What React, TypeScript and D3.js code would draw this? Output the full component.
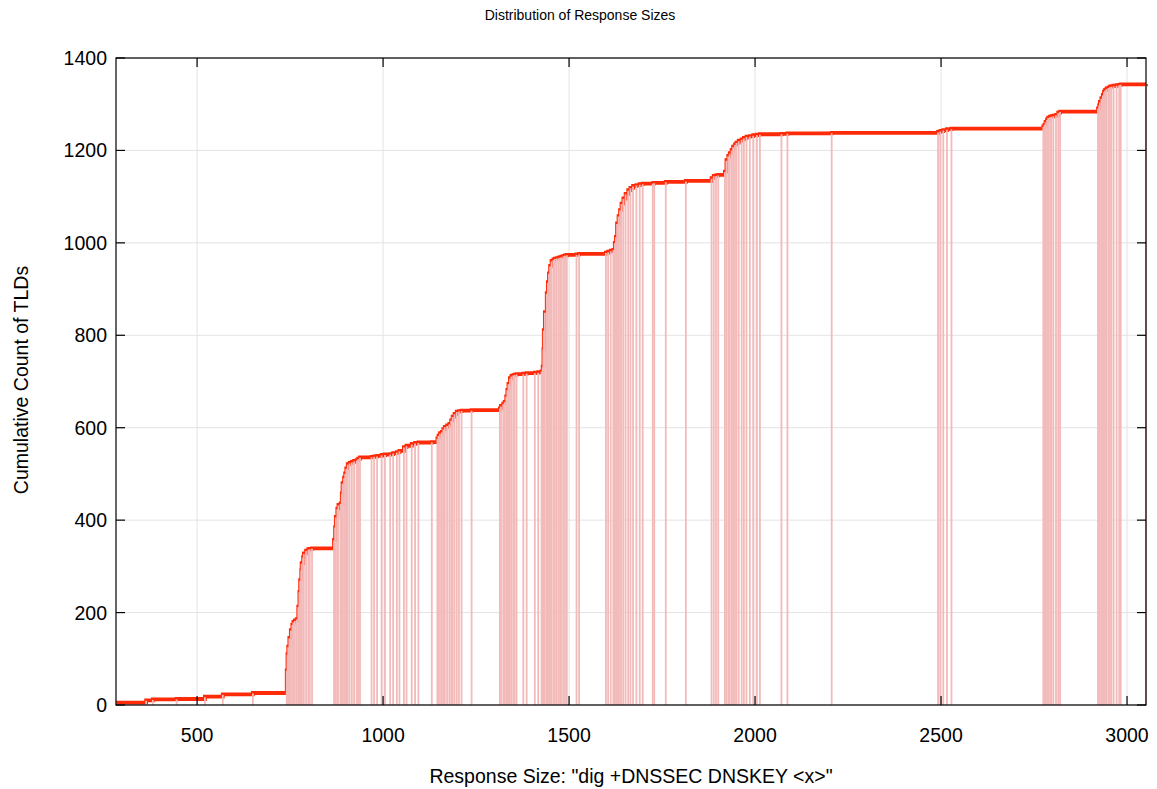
import React from "react";
import * as d3 from "d3";

// distinct response sizes (bytes) and cumulative TLD count at each size
const responseSizes = [
  282, 363, 381, 445, 521, 569, 650,
  741, 743, 745, 748, 752, 756, 759, 763, 768, 772, 775, 777, 780, 781, 785, 787, 793, 799, 803, 809,
  868, 871, 873, 877, 880, 886, 889, 891, 895, 898, 901, 905, 910, 916, 922, 929, 933, 938,
  969, 976, 984, 996, 1005, 1019, 1027, 1037, 1044, 1056, 1063, 1077, 1086, 1095, 1131,
  1146, 1149, 1153, 1158, 1162, 1166, 1172, 1178, 1183, 1187, 1192, 1198, 1204, 1211, 1238,
  1314, 1317, 1323, 1327, 1331, 1334, 1337, 1341, 1345, 1350, 1354, 1359, 1377, 1386, 1408, 1417, 1426,
  1429, 1431, 1432, 1435, 1440, 1443, 1446, 1449, 1453, 1458, 1462, 1467, 1472, 1476, 1480, 1485, 1489, 1494, 1520, 1527,
  1599, 1605, 1612, 1619, 1623, 1626, 1629, 1633, 1637, 1641, 1646, 1652, 1659, 1665, 1672, 1681, 1690, 1698, 1725, 1729, 1760, 1814,
  1883, 1889, 1895, 1901, 1919, 1923, 1928, 1932, 1937, 1941, 1946, 1950, 1956, 1964, 1970, 1977, 1986, 1995, 2005, 2013, 2071, 2087, 2206,
  2492, 2498, 2506, 2516, 2528,
  2775, 2778, 2781, 2785, 2788, 2793, 2797, 2802, 2809, 2815, 2820,
  2922, 2925, 2927, 2931, 2935, 2938, 2941, 2945, 2950, 2954, 2958, 2964, 2972, 2979, 2983, 3051,
];

const cumulativeCounts = [
  5, 10, 12, 13, 18, 23, 26,
  75, 110, 126, 145, 162, 174, 180, 183, 186, 213, 245, 270, 292, 307, 320, 328, 334, 337, 338, 339,
  357, 385, 407, 425, 433, 436, 458, 480, 492, 501, 512, 521, 524, 526, 528, 530, 533, 536,
  537, 538, 539, 541, 542, 543, 545, 547, 550, 558, 561, 565, 567, 568, 569,
  577, 583, 588, 591, 597, 602, 605, 608, 616, 624, 630, 635, 636, 637, 638,
  642, 647, 652, 656, 668, 682, 695, 707, 712, 714, 715, 716, 717, 718, 719, 720, 722,
  732, 770, 811, 850, 891, 915, 934, 950, 961, 964, 966, 967, 968, 969, 970, 972, 973, 974, 975, 976,
  979, 981, 983, 985, 1000, 1013, 1042, 1058, 1071, 1085, 1096, 1106, 1114, 1119, 1123, 1125, 1127, 1128, 1129, 1130, 1132, 1134,
  1140, 1145, 1146, 1147, 1154, 1179, 1188, 1194, 1201, 1208, 1213, 1217, 1221, 1224, 1227, 1230, 1231, 1233, 1234, 1235, 1236, 1237, 1238,
  1240, 1242, 1244, 1246, 1247,
  1252, 1256, 1262, 1267, 1271, 1273, 1274, 1275, 1277, 1282, 1284,
  1291, 1298, 1305, 1313, 1320, 1327, 1331, 1334, 1336, 1338, 1339, 1340, 1341, 1342, 1343, 1344,
];

const xTicks = [500, 1000, 1500, 2000, 2500, 3000];
const yTicks = [0, 200, 400, 600, 800, 1000, 1200, 1400];

const FONT = "'Liberation Sans', Arial, Helvetica, sans-serif";

export default function App() {
  const width = 1157;
  const height = 789;
  const margin = { top: 58, right: 11, bottom: 84, left: 116 };
  const x0 = margin.left;
  const x1 = width - margin.right;
  const y0 = height - margin.bottom;
  const y1 = margin.top;

  const x = d3.scaleLinear().domain([282, 3051]).range([x0, x1]);
  const y = d3.scaleLinear().domain([0, 1400]).range([y0, y1]);

  const points: [number, number][] = responseSizes.map((s, i) => [s, cumulativeCounts[i]]);
  const line = d3
    .line<[number, number]>()
    .x((d) => x(d[0]))
    .y((d) => y(d[1]))
    .curve(d3.curveStepAfter);

  const tickLen = 9;

  return (
    <svg
      width={width}
      height={height}
      style={{ position: "absolute", left: 0, top: 0, background: "#fff" }}
    >
      <rect width={width} height={height} fill="#fff" />
      <text x={580} y={20} textAnchor="middle" fontFamily={FONT} fontSize={14} fill="#000">
        Distribution of Response Sizes
      </text>

      {/* grid */}
      <g stroke="#e3e3e3" strokeWidth={1}>
        {xTicks.map((t) => (
          <line key={"gx" + t} x1={x(t)} x2={x(t)} y1={y1} y2={y0} />
        ))}
        {yTicks.map((t) => (
          <line key={"gy" + t} x1={x0} x2={x1} y1={y(t)} y2={y(t)} />
        ))}
      </g>

      {/* cumulative curve */}
      <path d={line(points) || ""} fill="none" stroke="#ff2a08" strokeWidth={3.8} />

      {/* impulses */}
      <g stroke="#f3baba" strokeWidth={1.8}>
        {points.map((d, i) => (
          <line key={"imp" + i} x1={x(d[0])} x2={x(d[0])} y1={y(0)} y2={y(d[1]) + 0.5} />
        ))}
      </g>

      {/* border and ticks */}
      <rect x={x0} y={y1} width={x1 - x0} height={y0 - y1} fill="none" stroke="#000" strokeWidth={1.2} />
      <g stroke="#000" strokeWidth={1.2}>
        {xTicks.map((t) => (
          <g key={"tx" + t}>
            <line x1={x(t)} x2={x(t)} y1={y0} y2={y0 - tickLen} />
            <line x1={x(t)} x2={x(t)} y1={y1} y2={y1 + tickLen} />
          </g>
        ))}
        {yTicks.map((t) => (
          <g key={"ty" + t}>
            <line x1={x0} x2={x0 + tickLen} y1={y(t)} y2={y(t)} />
            <line x1={x1} x2={x1 - tickLen} y1={y(t)} y2={y(t)} />
          </g>
        ))}
      </g>

      {/* tick labels */}
      <g fontFamily={FONT} fontSize={19.5} fill="#000">
        {xTicks.map((t) => (
          <text key={"lx" + t} x={x(t)} y={y0 + 37} textAnchor="middle">
            {t}
          </text>
        ))}
        {yTicks.map((t) => (
          <text key={"ly" + t} x={x0 - 9} y={y(t) + 7} textAnchor="end">
            {t}
          </text>
        ))}
      </g>

      {/* axis titles */}
      <text x={631} y={783} textAnchor="middle" fontFamily={FONT} fontSize={19.5} fill="#000">
        Response Size: "dig +DNSSEC DNSKEY &lt;x&gt;"
      </text>
      <text
        transform={`translate(28, ${380}) rotate(-90)`}
        textAnchor="middle"
        fontFamily={FONT}
        fontSize={19.5}
        fill="#000"
      >
        Cumulative Count of TLDs
      </text>
    </svg>
  );
}
